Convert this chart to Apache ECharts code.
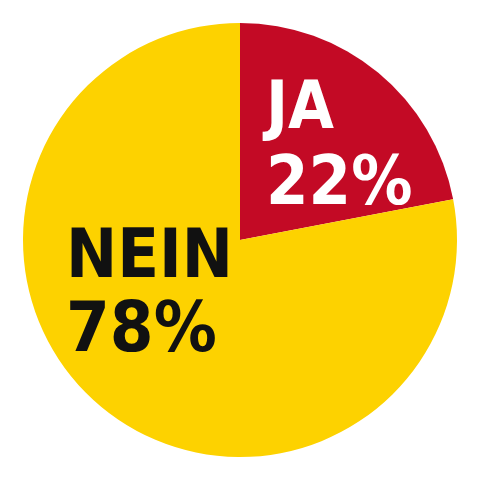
<!DOCTYPE html>
<html><head><meta charset="utf-8">
<script src="https://cdn.jsdelivr.net/npm/echarts@6/dist/echarts.min.js"></script>
<style>html,body{margin:0;background:#fff}#c{width:480px;height:480px}</style>
</head><body><div id="c"></div>
<script>
const categories = ["JA", "NEIN"];
const values = [22, 78];
const colors = ["#c30a25", "#fdd200"];
const chart = echarts.init(document.getElementById('c'));
const font = '"DejaVu Sans Condensed", "DejaVu Sans", sans-serif';
chart.setOption({
  animation: false,
  series: [{
    type: 'pie',
    center: [240, 240],
    radius: 217,
    startAngle: 90,
    clockwise: true,
    label: { show: false },
    labelLine: { show: false },
    itemStyle: { borderWidth: 0 },
    data: categories.map((c, i) => ({ name: c, value: values[i], itemStyle: { color: colors[i] } }))
  }],
  graphic: [
    { type: 'text', z: 100, left: 266, top: 78, style: { text: categories[0], font: 'bold 66px ' + font, fill: '#fff', textShadowColor: '#3a2a20', textShadowOffsetX: 4, textShadowOffsetY: 4 } },
    { type: 'text', z: 100, left: 266, top: 152, style: { text: values[0] + '%', font: 'bold 68px ' + font, fill: '#fff', textShadowColor: '#3a2a20', textShadowOffsetX: 4, textShadowOffsetY: 4 } },
    { type: 'text', z: 100, left: 66, top: 225, style: { text: categories[1], font: 'bold 68px ' + font, fill: '#111' } },
    { type: 'text', z: 100, left: 66, top: 298, style: { text: values[1] + '%', font: 'bold 70px ' + font, fill: '#111' } }
  ]
});
</script></body></html>
